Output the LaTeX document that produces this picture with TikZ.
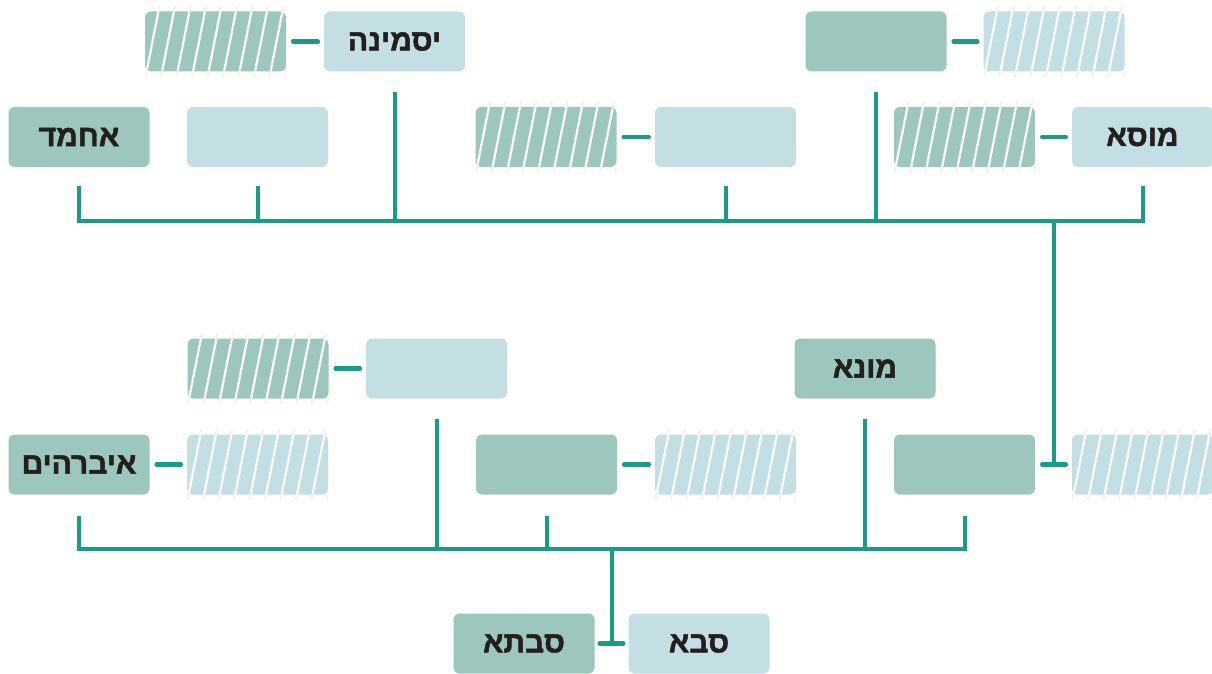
\documentclass[tikz,border=0pt]{standalone}
\usepackage{fontspec}
\newfontfamily\heb[Script=Hebrew,FakeBold=1.6]{Liberation Sans}
\TeXXeTstate=1
\usetikzlibrary{calc,backgrounds}
\definecolor{boxG}{HTML}{9DC6BC}
\definecolor{boxB}{HTML}{C3DFE4}
\definecolor{linec}{HTML}{1A9B87}
\definecolor{txt}{HTML}{231F20}
\begin{document}
\begin{tikzpicture}[x=1pt,y=-1pt,
 box/.style={rounded corners=6pt, minimum width=141pt, minimum height=60pt, inner sep=0pt,
   font=\heb\bfseries\fontsize{30}{30}\selectfont, text=txt},
 gbox/.style={box, fill=boxG},
 bbox/.style={box, fill=boxB},
 hatch/.style={path picture={\foreach \i in {-2,...,10}
   \draw[white,line width=2.2pt] ($(path picture bounding box.south west)+(\i*15.5pt,-8pt)$) -- ++(15pt,76pt);}},
 link/.style={draw=linec, line width=4.5pt, line cap=round},
 bus/.style={draw=linec, line width=4pt}
]
\useasboundingbox (0,0) rectangle (1212,674);
% row 1
\node[gbox,hatch] (h1) at (215.5,41.5) {};
\node[bbox] (yas) at (394.5,41.5) {\beginR יסמינה\endR};
\node[gbox] (d1) at (876,41.5) {};
\node[bbox,hatch] (h2) at (1054,41.5) {};
% row 2
\node[gbox] (ahmed) at (79,137) {\beginR אחמד\endR};
\node[bbox] (b1) at (257.5,137) {};
\node[gbox,hatch] (h3) at (546,137) {};
\node[bbox] (b2) at (725.5,137) {};
\node[gbox,hatch] (h4) at (964.5,137) {};
\node[bbox] (musa) at (1142.5,137) {\beginR מוסא\endR};
% row 3
\node[gbox,hatch] (h5) at (258,368.5) {};
\node[bbox] (b3) at (436.5,368.5) {};
\node[gbox] (muna) at (865,368.5) {\beginR מונא\endR};
% row 4
\node[gbox] (ibr) at (79,464.5) {\beginR איברהים\endR};
\node[bbox,hatch] (h6) at (257.5,464.5) {};
\node[gbox] (d2) at (546.5,464.5) {};
\node[bbox,hatch] (h7) at (725.5,464.5) {};
\node[gbox] (d3) at (964.5,464.5) {};
\node[bbox,hatch] (h8) at (1142.5,464.5) {};
% row 5
\node[gbox] (savta) at (524,643.5) {\beginR סבתא\endR};
\node[bbox] (saba) at (699,643.5) {\beginR סבא\endR};

% faint stripe ends outside the hatched boxes
\begin{pgfonlayer}{background}
\foreach \n in {h1,h2,h3,h4,h5,h6,h7,h8}{
  \begin{scope}
  \clip ($(\n.south west)+(0,5)$) rectangle ($(\n.north east)+(0,-5)$);
  \foreach \i in {-2,...,10}
    \draw[black!5,line width=2pt] ($(\n.south west)+(\i*15.5pt,-8pt)$) -- ++(15pt,76pt);
  \end{scope}}
\end{pgfonlayer}

% pair links
\draw[link] ($(h1.east)+(7,0)$) -- ($(yas.west)+(-6,0)$);
\draw[link] ($(d1.east)+(7,0)$) -- ($(h2.west)+(-6,0)$);
\draw[link] ($(h3.east)+(7,0)$) -- ($(b2.west)+(-6,0)$);
\draw[link] ($(h4.east)+(7,0)$) -- ($(musa.west)+(-6,0)$);
\draw[link] ($(h5.east)+(7,0)$) -- ($(b3.west)+(-6,0)$);
\draw[link] ($(ibr.east)+(7,0)$) -- ($(h6.west)+(-6,0)$);
\draw[link] ($(d2.east)+(7,0)$) -- ($(h7.west)+(-6,0)$);
\draw[link] ($(d3.east)+(7,0)$) -- ($(h8.west)+(-6,0)$);
\draw[link] ($(savta.east)+(5,0)$) -- ($(saba.west)+(-5,0)$);

% upper bus
\coordinate (busT) at (600,221);
\draw[bus] ($(ahmed.south)+(0,19)$) -- (ahmed.south |- busT) -- (musa.south |- busT) -- ($(musa.south)+(0,19)$);
\foreach \n in {b1,b2} \draw[bus] ($(\n.south)+(0,19)$) -- (\n.south |- busT);
\foreach \n in {yas,d1} \draw[bus] ($(\n.south)+(0,20)$) -- (\n.south |- busT);
\coordinate (m1) at ($(d3.east)!0.5!(h8.west)$);
\draw[bus] (m1 |- busT) -- (m1);

% lower bus
\coordinate (busB) at (600,549);
\draw[bus] ($(ibr.south)+(0,21)$) -- (ibr.south |- busB) -- (d3.south |- busB) -- ($(d3.south)+(0,21)$);
\draw[bus] ($(d2.south)+(0,21)$) -- (d2.south |- busB);
\foreach \n in {b3,muna} \draw[bus] ($(\n.south)+(0,20)$) -- (\n.south |- busB);
\coordinate (m2) at ($(savta.east)!0.5!(saba.west)$);
\draw[bus] (m2 |- busB) -- (m2);
\end{tikzpicture}
\end{document}
